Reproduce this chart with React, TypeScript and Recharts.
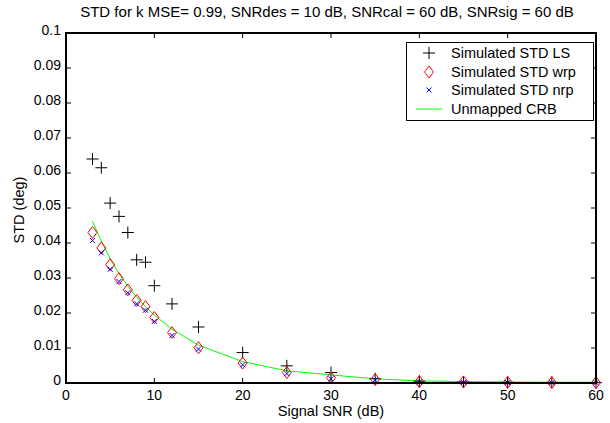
import { ComposedChart, Line, Scatter, XAxis, YAxis, Label } from 'recharts';

// signal SNR (dB) at which each curve was evaluated
const snr = [3, 4, 5, 6, 7, 8, 9, 10, 12, 15, 20, 25, 30, 35, 40, 45, 50, 55, 60];
const stdLS = [0.064, 0.0615, 0.0514, 0.0476, 0.043, 0.0352, 0.0345, 0.0278, 0.0226, 0.016, 0.0087, 0.0049, 0.003, 0.0012, 0.0005, 0.0003, 0.0002, 0.0002, 0.0001];
const stdWrp = [0.043, 0.0386, 0.0338, 0.0298, 0.0266, 0.0236, 0.0218, 0.0187, 0.0144, 0.0101, 0.0057, 0.003, 0.0015, 0.001, 0.0004, 0.0003, 0.0002, 0.0001, 0.0001];
const stdNrp = [0.0407, 0.0372, 0.0325, 0.029, 0.0258, 0.0226, 0.0208, 0.0176, 0.0136, 0.0097, 0.0052, 0.0027, 0.0012, 0.0009, 0.0003, 0.0002, 0.0001, 0.0001, 0.0001];
const crb = [0.0462, 0.0405, 0.0355, 0.0312, 0.0276, 0.0245, 0.0218, 0.0194, 0.0154, 0.0108, 0.0061, 0.0035, 0.0023, 0.0012, 0.0006, 0.0004, 0.0003, 0.0002, 0.0002];

const xTicks = [0, 10, 20, 30, 40, 50, 60];
const yTicks = [0, 0.01, 0.02, 0.03, 0.04, 0.05, 0.06, 0.07, 0.08, 0.09, 0.1];

const data = snr.map((s, i) => ({ snr: s, ls: stdLS[i], wrp: stdWrp[i], nrp: stdNrp[i], crb: crb[i] }));

const FONT = '"Liberation Sans", Arial, sans-serif';
const W = 610;
const H = 423;
const TOP = 33;
const LEFT = 66;
const RIGHT = 596;
const BOTTOM = 383;
const TICK = 5;
const FS = 14;

const fmt = (v: number) => String(Number(v.toFixed(2)));

const XTick = (props: any) => {
  const { x, payload } = props;
  return (
    <g>
      <line x1={x} x2={x} y1={BOTTOM} y2={BOTTOM - TICK} stroke="#000" strokeWidth={1} />
      <line x1={x} x2={x} y1={TOP} y2={TOP + TICK} stroke="#000" strokeWidth={1} />
      <text x={x} y={BOTTOM + 13} textAnchor="middle" dominantBaseline="middle" fontSize={FS} fontFamily={FONT} fill="#000">
        {fmt(payload.value)}
      </text>
    </g>
  );
};

const YTick = (props: any) => {
  const { y, payload } = props;
  return (
    <g>
      <line x1={LEFT} x2={LEFT + TICK} y1={y} y2={y} stroke="#000" strokeWidth={1} />
      <line x1={RIGHT} x2={RIGHT - TICK} y1={y} y2={y} stroke="#000" strokeWidth={1} />
      <text x={LEFT - 5} y={y - 2} textAnchor="end" dominantBaseline="middle" fontSize={FS} fontFamily={FONT} fill="#000">
        {fmt(payload.value)}
      </text>
    </g>
  );
};

const Plus = ({ cx, cy }: any) => (
  <g stroke="#000" strokeWidth={1}>
    <line x1={cx - 6} x2={cx + 6} y1={cy} y2={cy} />
    <line x1={cx} x2={cx} y1={cy - 6} y2={cy + 6} />
  </g>
);

const Diamond = ({ cx, cy }: any) => (
  <polygon
    points={`${cx},${cy - 6} ${cx + 4.5},${cy} ${cx},${cy + 6} ${cx - 4.5},${cy}`}
    fill="none"
    stroke="#ff0000"
    strokeWidth={1}
  />
);

const Cross = ({ cx, cy }: any) => (
  <g stroke="#0000ff" strokeWidth={1}>
    <line x1={cx - 2.5} x2={cx + 2.5} y1={cy - 2.5} y2={cy + 2.5} />
    <line x1={cx - 2.5} x2={cx + 2.5} y1={cy + 2.5} y2={cy - 2.5} />
  </g>
);

const legendRows = [
  { label: 'Simulated STD LS', kind: 'plus' },
  { label: 'Simulated STD wrp', kind: 'diamond' },
  { label: 'Simulated STD nrp', kind: 'cross' },
  { label: 'Unmapped CRB', kind: 'line' },
];

const LegendBox = () => (
  <div
    style={{
      position: 'absolute',
      left: 406,
      top: 42,
      border: '1px solid #000',
      background: '#fff',
      width: 186,
      height: 76,
      paddingTop: 1,
      fontFamily: FONT,
      fontSize: 14.5,
      lineHeight: '18px',
    }}
  >
    {legendRows.map((r) => (
      <div key={r.label} style={{ display: 'flex', alignItems: 'center', height: 18.5 }}>
        <svg width={44} height={18} style={{ flex: 'none' }}>
          {r.kind === 'plus' && <Plus cx={22} cy={9} />}
          {r.kind === 'diamond' && <Diamond cx={22} cy={9} />}
          {r.kind === 'cross' && <Cross cx={22} cy={9} />}
          {r.kind === 'line' && <line x1={9} x2={35} y1={9} y2={9} stroke="#00ff00" />}
        </svg>
        <span>{r.label}</span>
      </div>
    ))}
  </div>
);

export default function App() {
  return (
    <div style={{ position: 'absolute', left: 0, top: 0, width: W, height: H, background: '#fff' }}>
      <div
        style={{
          position: 'absolute',
          left: 0,
          top: 3,
          width: 2 * 327,
          textAlign: 'center',
          fontFamily: FONT,
          fontSize: 15,
          lineHeight: '18px',
        }}
      >
        STD for k MSE= 0.99, SNRdes = 10 dB, SNRcal = 60 dB, SNRsig = 60 dB
      </div>
      <ComposedChart width={W} height={H} data={data} margin={{ top: TOP, right: W - RIGHT, bottom: 0, left: 0 }}>
        <XAxis
          dataKey="snr"
          type="number"
          domain={[0, 60]}
          ticks={xTicks}
          height={H - BOTTOM}
          tick={<XTick />}
          tickLine={false}
          axisLine={false}
          interval={0}
        >
          <Label
            content={({ viewBox }: any) => (
              <text
                x={viewBox.x + viewBox.width / 2}
                y={BOTTOM + 29}
                textAnchor="middle"
                dominantBaseline="middle"
                fontSize={14.5}
                fontFamily={FONT}
                fill="#000"
              >
                Signal SNR (dB)
              </text>
            )}
          />
        </XAxis>
        <YAxis
          type="number"
          domain={[0, 0.1]}
          ticks={yTicks}
          width={LEFT}
          tick={<YTick />}
          tickLine={false}
          axisLine={false}
          interval={0}
        >
          <Label
            content={({ viewBox }: any) => {
              const cy = viewBox.y + viewBox.height / 2 + 2;
              return (
                <text
                  x={20}
                  y={cy}
                  transform={`rotate(-90 20 ${cy})`}
                  textAnchor="middle"
                  dominantBaseline="middle"
                  fontSize={14.5}
                  fontFamily={FONT}
                  fill="#000"
                >
                  STD (deg)
                </text>
              );
            }}
          />
        </YAxis>
        <Scatter dataKey="ls" shape={<Plus />} isAnimationActive={false} />
        <Scatter dataKey="wrp" shape={<Diamond />} isAnimationActive={false} />
        <Scatter dataKey="nrp" shape={<Cross />} isAnimationActive={false} />
        <Line dataKey="crb" type="linear" stroke="#00ff00" strokeWidth={1} dot={false} isAnimationActive={false} />
      </ComposedChart>
      <div
        style={{
          position: 'absolute',
          left: LEFT - 1,
          top: TOP - 1,
          width: RIGHT - LEFT + 2,
          height: BOTTOM - TOP + 2,
          boxSizing: 'border-box',
          borderStyle: 'solid',
          borderWidth: 2,
          borderColor: '#000',
          pointerEvents: 'none',
          zIndex: 5,
        }}
      />
      <LegendBox />
    </div>
  );
}
